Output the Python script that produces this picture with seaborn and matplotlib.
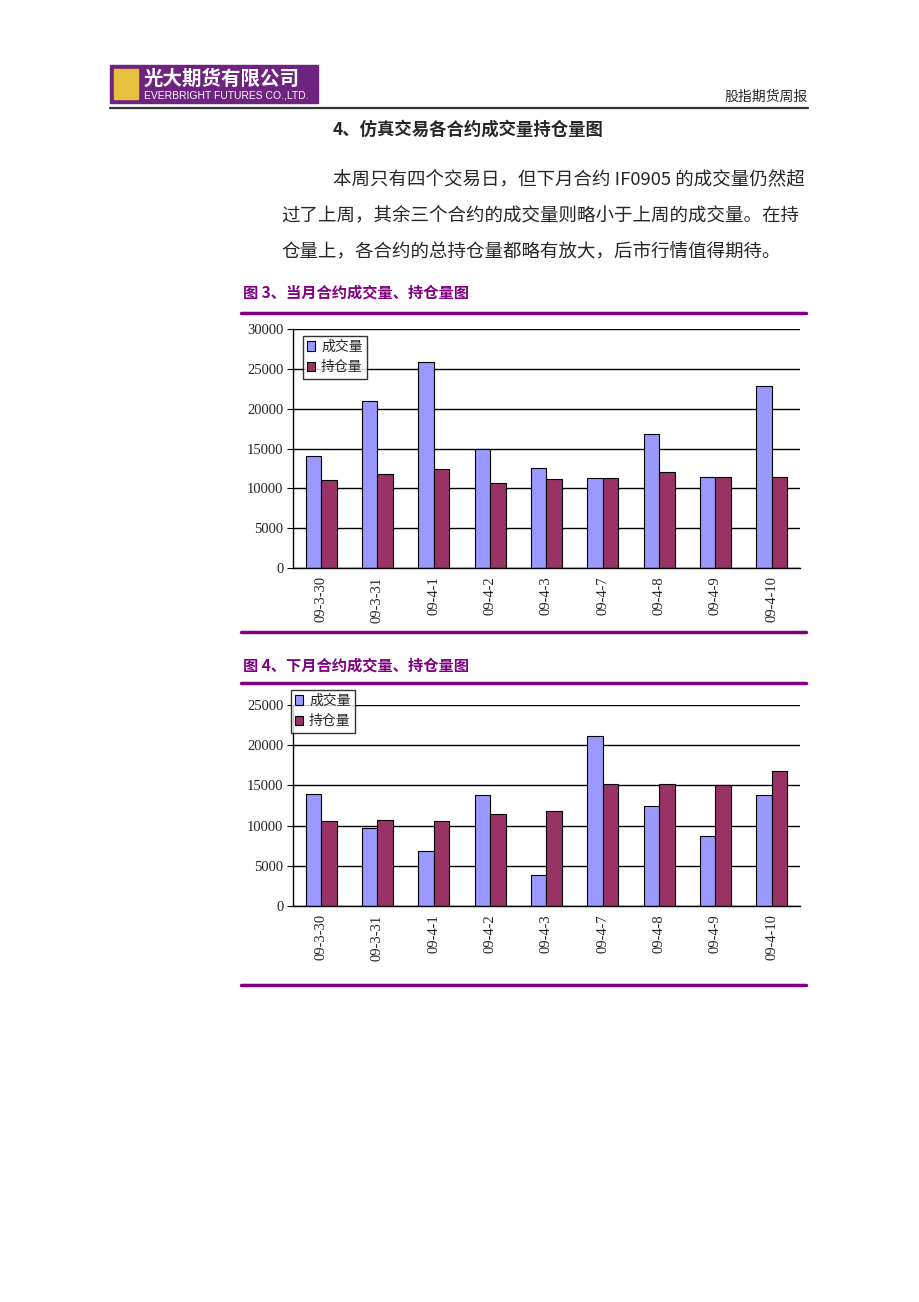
import numpy as np
import pandas as pd
import matplotlib.pyplot as plt
import matplotlib.patches as mpatches
import seaborn as sns

# data
dates = ['09-3-30', '09-3-31', '09-4-1', '09-4-2', '09-4-3',
         '09-4-7', '09-4-8', '09-4-9', '09-4-10']
series = ['成交量', '持仓量']

# 图3 当月合约
cur_volume = [14000, 21000, 25800, 14950, 12500, 11300, 16800, 11450, 22800]
cur_oi = [11100, 11750, 12400, 10700, 11200, 11350, 12000, 11450, 11450]

# 图4 下月合约
next_volume = [13900, 9750, 6800, 13850, 3800, 21100, 12400, 8750, 13850]
next_oi = [10550, 10700, 10550, 11400, 11850, 15200, 15200, 15050, 16850]

cur_yticks = [0, 5000, 10000, 15000, 20000, 25000, 30000]
next_yticks = [0, 5000, 10000, 15000, 20000, 25000]

colors = {'成交量': '#9999FF', '持仓量': '#993366'}
purple = '#800080'

sns.set_style("white")
plt.rcParams['font.family'] = ['Noto Sans CJK SC', 'DejaVu Sans']

W, H = 920, 1302
fig = plt.figure(figsize=(W / 100, H / 100), dpi=100)


def px(x, y):
    return x / W, 1 - y / H


def hline(y, x0, x1, color, lw):
    fig.add_artist(plt.Line2D([x0 / W, x1 / W], [1 - y / H, 1 - y / H],
                              color=color, lw=lw, transform=fig.transFigure))


# header / logo
fig.add_artist(mpatches.Rectangle(px(110, 103), 208 / W, 38 / H, color='#6e2380',
                                  transform=fig.transFigure))
fig.add_artist(mpatches.Rectangle(px(114, 99), 24 / W, 30 / H, color='#e8c040',
                                  transform=fig.transFigure))
fig.text(*px(144, 79), '光大期货有限公司', color='white', fontsize=14,
         va='center', ha='left', fontweight='bold')
fig.text(*px(144, 96), 'EVERBRIGHT FUTURES CO.,LTD.', color='white', fontsize=7.5,
         va='center', ha='left', family=['Liberation Sans'])
fig.text(*px(808, 97), '股指期货周报', fontsize=10, va='center', ha='right')
hline(108, 110, 808, '#333333', 1.6)

fig.text(*px(333, 130), '4、仿真交易各合约成交量持仓量图', fontsize=12.5,
         fontweight='bold', va='center', ha='left')
fig.text(*px(333, 180), '本周只有四个交易日，但下月合约 IF0905 的成交量仍然超',
         fontsize=13.3, va='center', ha='left')
fig.text(*px(281, 216), '过了上周，其余三个合约的成交量则略小于上周的成交量。在持',
         fontsize=13.3, va='center', ha='left')
fig.text(*px(281, 252), '仓量上，各合约的总持仓量都略有放大，后市行情值得期待。',
         fontsize=13.3, va='center', ha='left')


def draw_chart(ax, vol, oi, yticks, legend_anchor):
    df = pd.DataFrame({
        'date': dates * 2,
        'series': [series[0]] * len(dates) + [series[1]] * len(dates),
        'value': vol + oi,
    })
    sns.barplot(data=df, x='date', y='value', hue='series', order=dates,
                hue_order=series, palette=colors, edgecolor='black',
                linewidth=0.8, width=0.55, saturation=1, ax=ax, legend=False)
    ax.set_xlim(-0.5, len(dates) - 0.5)
    ax.set_ylim(0, yticks[-1])
    ax.set_yticks(yticks)
    ax.set_yticklabels([str(t) for t in yticks], family=['Liberation Serif'],
                       fontsize=10.5)
    ax.set_xticks(range(len(dates)))
    ax.set_xticklabels(dates, rotation=90, family=['Liberation Serif'], fontsize=10.5)
    ax.tick_params(axis='x', which='major', length=0, pad=6)
    ax.set_xticks(np.arange(-0.5, len(dates)), minor=True)
    ax.tick_params(axis='x', which='minor', length=4, direction='out', color='black')
    ax.tick_params(axis='y', length=4, direction='out', color='black', left=True, pad=3)
    ax.yaxis.grid(True, color='black', lw=1)
    ax.set_axisbelow(True)
    for s in ['top', 'right']:
        ax.spines[s].set_visible(False)
    for s in ['left', 'bottom']:
        ax.spines[s].set_color('black')
        ax.spines[s].set_linewidth(1)
    ax.set_xlabel('')
    ax.set_ylabel('')
    handles = [mpatches.Patch(facecolor=colors[s], edgecolor='black', lw=0.8)
               for s in series]
    leg = fig.legend(handles, series, loc='upper left', bbox_to_anchor=legend_anchor,
                     fontsize=10, frameon=True, fancybox=False, handlelength=0.6,
                     handleheight=0.7, handletextpad=0.4, borderpad=0.3,
                     labelspacing=0.45, borderaxespad=0)
    leg.get_frame().set_edgecolor('black')
    leg.get_frame().set_linewidth(1)


# chart 3
fig.text(*px(243, 293), '图 3、当月合约成交量、持仓量图', color=purple, fontsize=11,
         fontweight='bold', va='center', ha='left')
hline(313, 241, 806, purple, 2.5)
ax1 = fig.add_axes([293 / W, 1 - 568 / H, 507 / W, 239 / H])
draw_chart(ax1, cur_volume, cur_oi, cur_yticks, px(303, 336))
hline(632, 241, 806, purple, 2.5)

# chart 4
fig.text(*px(243, 666), '图 4、下月合约成交量、持仓量图', color=purple, fontsize=11,
         fontweight='bold', va='center', ha='left')
hline(683, 241, 806, purple, 2.5)
ax2 = fig.add_axes([293 / W, 1 - 906 / H, 507 / W, 201 / H])
draw_chart(ax2, next_volume, next_oi, next_yticks, px(291, 690))
hline(985, 241, 806, purple, 2.5)

fig.savefig('out.png', dpi=100)
